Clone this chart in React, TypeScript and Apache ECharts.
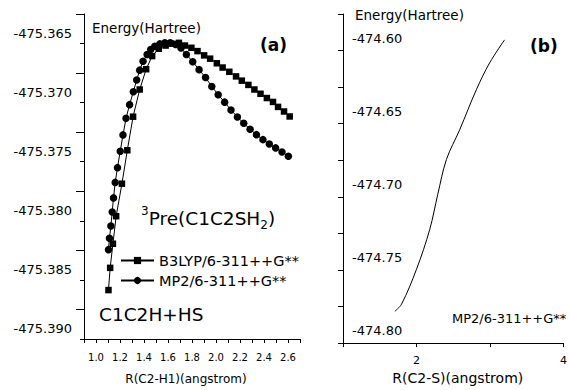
import React, { useEffect, useRef } from "react";
import * as echarts from "echarts";

const FONT = "'DejaVu Sans', 'Liberation Sans', Arial, sans-serif";

// Panel (a): C2-H1 scan
const b3lypR = [1.104, 1.118, 1.141, 1.168, 1.216, 1.261, 1.309, 1.364, 1.418, 1.468, 1.523, 1.58, 1.627, 1.691, 1.741, 1.795, 1.846, 1.901, 1.951, 2.007, 2.055, 2.111, 2.167, 2.215, 2.27, 2.32, 2.371, 2.424, 2.475, 2.517, 2.567, 2.614];
const b3lypE = [-475.38586, -475.38398, -475.38194, -475.37961, -475.37686, -475.37403, -475.37119, -475.36889, -475.36717, -475.36606, -475.36544, -475.36517, -475.365, -475.36494, -475.36517, -475.36536, -475.36564, -475.366, -475.36628, -475.36667, -475.36703, -475.36739, -475.36778, -475.36814, -475.3685, -475.36889, -475.36925, -475.36961, -475.36994, -475.37036, -475.37075, -475.37117];
const mp2R = [1.104, 1.112, 1.124, 1.135, 1.146, 1.16, 1.179, 1.202, 1.225, 1.25, 1.28, 1.311, 1.339, 1.364, 1.392, 1.426, 1.456, 1.49, 1.532, 1.574, 1.619, 1.663, 1.708, 1.753, 1.806, 1.859, 1.913, 1.965, 2.018, 2.072, 2.125, 2.178, 2.231, 2.284, 2.337, 2.391, 2.444, 2.497, 2.55, 2.603];
const mp2E = [-475.38244, -475.38148, -475.38044, -475.37925, -475.37806, -475.37675, -475.3755, -475.37411, -475.37273, -475.37133, -475.37017, -475.36908, -475.36808, -475.36725, -475.3665, -475.36592, -475.3655, -475.36523, -475.36503, -475.36494, -475.36494, -475.36508, -475.36538, -475.36592, -475.36654, -475.36721, -475.36788, -475.36863, -475.36933, -475.36996, -475.37063, -475.37121, -475.37175, -475.37225, -475.37271, -475.37313, -475.3735, -475.37383, -475.37417, -475.37453];

// Panel (b): C2-S scan
const csR = [1.706, 1.796, 2.0, 2.18, 2.289, 2.407, 2.588, 2.814, 2.995, 3.198];
const csE = [-474.7782, -474.7734, -474.7495, -474.7223, -474.6984, -474.6745, -474.6541, -474.6268, -474.6084, -474.5927];

// Tick labels
const leftXLabels = [1.0, 1.2, 1.4, 1.6, 1.8, 2.0, 2.2, 2.4, 2.6];
const leftYLabels = [-475.39, -475.385, -475.38, -475.375, -475.37, -475.365];
const leftYLongTicks = [-475.3875, -475.3825, -475.3775, -475.3725, -475.3675, -475.3625];
const rightXLabels = [2, 4];
const rightYLabels = [-474.8, -474.75, -474.7, -474.65, -474.6];

const seriesNames = ["B3LYP/6-311++G**", "MP2/6-311++G**"];

const inList = (list: number[], v: number) => list.some((l) => Math.abs(l - v) < 1e-7);

export default function App() {
  const ref = useRef<HTMLDivElement>(null);
  useEffect(() => {
    if (!ref.current) return;
    const chart = echarts.init(ref.current, undefined, { renderer: "svg" });
    const black = "#000";
    const axisLine = { show: true, onZero: false, lineStyle: { color: black, width: 1 } };
    chart.setOption({
      animation: false,
      backgroundColor: "#fff",
      textStyle: { fontFamily: FONT, color: black },
      grid: [
        { left: 84, top: 14, width: 216, height: 330, containLabel: false },
        { left: 343, top: 14, width: 221, height: 330, containLabel: false },
      ],
      legend: {
        data: seriesNames,
        orient: "vertical",
        left: 120,
        top: 253,
        padding: 0,
        itemWidth: 33,
        itemHeight: 9,
        itemGap: 5,
        textStyle: { fontFamily: FONT, fontSize: 14.5, color: black },
      },
      xAxis: [
        {
          type: "value",
          gridIndex: 0,
          min: 0.9,
          max: 2.7,
          interval: 0.1,
          axisLine,
          axisTick: { show: true, length: 4, lineStyle: { color: black } },
          splitLine: { show: false },
          axisLabel: {
            fontSize: 10,
            margin: 13,
            color: black,
            fontFamily: FONT,
            formatter: (v: number) => (inList(leftXLabels, v) ? v.toFixed(1) : ""),
          },
          name: "R(C2-H1)(angstrom)",
          nameLocation: "middle",
          nameGap: 34,
          nameTextStyle: { fontSize: 12, color: black, fontFamily: FONT, padding: [0, 12, 0, 0] },
        },
        {
          type: "value",
          gridIndex: 1,
          min: 1,
          max: 4,
          interval: 1,
          axisLine,
          axisTick: { show: true, length: 4, lineStyle: { color: black } },
          splitLine: { show: false },
          axisLabel: {
            fontSize: 11,
            margin: 12,
            color: black,
            fontFamily: FONT,
            formatter: (v: number) => (inList(rightXLabels, v) ? String(v) : ""),
          },
          name: "R(C2-S)(angstrom)",
          nameLocation: "middle",
          nameGap: 25,
          nameTextStyle: { fontSize: 14, color: black, fontFamily: FONT, padding: [0, 0, 0, 9] },
        },
      ],
      yAxis: [
        {
          type: "value",
          gridIndex: 0,
          min: -475.39,
          max: -475.3625,
          interval: 0.0025,
          axisLine,
          axisTick: { show: true, length: 4, lineStyle: { color: black } },
          splitLine: { show: false },
          axisLabel: {
            fontSize: 13,
            margin: 12,
            color: black,
            fontFamily: FONT,
            verticalAlign: "bottom",
            padding: [0, 0, 4, 0],
            formatter: (v: number) => (inList(leftYLabels, v) ? v.toFixed(3) : ""),
          },
        },
        {
          type: "value",
          gridIndex: 0,
          position: "left",
          min: -475.39,
          max: -475.3625,
          axisLine: { show: false },
          axisTick: { show: true, length: 8, customValues: leftYLongTicks, lineStyle: { color: black } },
          splitLine: { show: false },
          axisLabel: { show: false },
        },
        {
          type: "value",
          gridIndex: 1,
          min: -474.8,
          max: -474.575,
          interval: 0.025,
          axisLine,
          axisTick: { show: true, length: 5, lineStyle: { color: black } },
          splitLine: { show: false },
          axisLabel: {
            inside: true,
            fontSize: 13,
            margin: 9,
            color: black,
            fontFamily: FONT,
            verticalAlign: "bottom",
            padding: [0, 0, 6, 0],
            formatter: (v: number) => (inList(rightYLabels, v) ? v.toFixed(2) : ""),
          },
        },
      ],
      series: [
        {
          name: seriesNames[0],
          type: "line",
          xAxisIndex: 0,
          yAxisIndex: 0,
          data: b3lypR.map((r, i) => [r, b3lypE[i]]),
          symbol: "rect",
          symbolSize: 6.5,
          showAllSymbol: true,
          itemStyle: { color: black },
          lineStyle: { color: black, width: 1 },
        },
        {
          name: seriesNames[1],
          type: "line",
          xAxisIndex: 0,
          yAxisIndex: 0,
          data: mp2R.map((r, i) => [r, mp2E[i]]),
          symbol: "circle",
          symbolSize: 7.5,
          showAllSymbol: true,
          itemStyle: { color: black },
          lineStyle: { color: black, width: 1 },
        },
        {
          name: "C2-S",
          type: "line",
          xAxisIndex: 1,
          yAxisIndex: 2,
          data: csR.map((r, i) => [r, csE[i]]),
          showSymbol: false,
          symbol: "none",
          smooth: 0.35,
          lineStyle: { color: black, width: 1 },
        },
      ],
      graphic: [
        { type: "text", x: 92, y: 28, style: { text: "Energy(Hartree)", font: `13.5px ${FONT}`, fill: black, verticalAlign: "middle" } },
        { type: "text", x: 355, y: 15, style: { text: "Energy(Hartree)", font: `13.5px ${FONT}`, fill: black, verticalAlign: "middle" } },
        { type: "text", x: 260, y: 45, style: { text: "(a)", font: `bold 17px ${FONT}`, fill: black, verticalAlign: "middle" } },
        { type: "text", x: 530, y: 46, style: { text: "(b)", font: `bold 17px ${FONT}`, fill: black, verticalAlign: "middle" } },
        {
          type: "text",
          x: 141,
          y: 218,
          style: {
            text: "{sup|3}{n|Pre(C1C2SH}{sub|2}{n|)}",
            fill: black,
            verticalAlign: "middle",
            rich: {
              n: { fontFamily: FONT, fontSize: 18.5, lineHeight: 26, verticalAlign: "middle", fill: black },
              sup: { fontFamily: FONT, fontSize: 12, verticalAlign: "top", fill: black },
              sub: { fontFamily: FONT, fontSize: 12, verticalAlign: "bottom", fill: black },
            },
          },
        },
        { type: "text", x: 99, y: 314, style: { text: "C1C2H+HS", font: `18.5px ${FONT}`, fill: black, verticalAlign: "middle" } },
        { type: "text", x: 452, y: 318, style: { text: "MP2/6-311++G**", font: `13px ${FONT}`, fill: black, verticalAlign: "middle" } },
      ],
    });
    return () => chart.dispose();
  }, []);
  return (
    <div
      ref={ref}
      style={{ position: "fixed", left: 0, top: 0, width: 570, height: 390, background: "#fff" }}
    />
  );
}
